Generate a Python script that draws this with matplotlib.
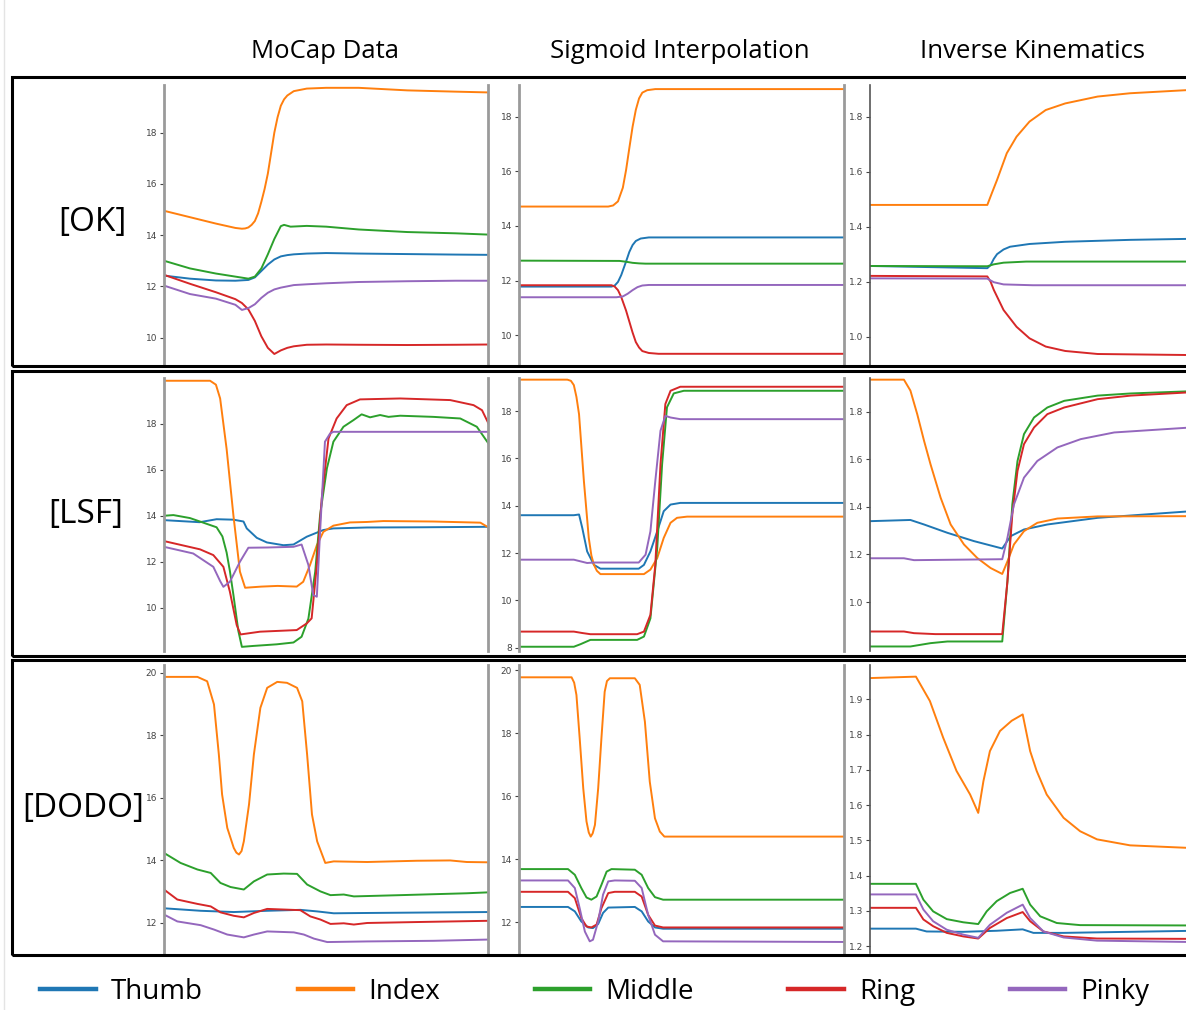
import matplotlib
matplotlib.use('Agg')
import matplotlib.pyplot as plt
from matplotlib.lines import Line2D
from matplotlib.patches import Rectangle

# finger order and colours (matplotlib default cycle)
fingers = ['Thumb', 'Index', 'Middle', 'Ring', 'Pinky']
colors = ['#1f77b4', '#ff7f0e', '#2ca02c', '#d62728', '#9467bd']

col_titles = ['MoCap Data', 'Sigmoid Interpolation', 'Inverse Kinematics']
row_labels = ['[OK]', '[LSF]', '[DODO]']

# (frame %, value) pairs
ok_mocap = {
    'Thumb': [(0, 12.42), (8, 12.3), (16, 12.23), (22, 12.22), (26, 12.25), (28, 12.35), (30, 12.6),
              (32, 12.85), (34, 13.05), (36, 13.17), (38, 13.22), (40, 13.25), (44, 13.28), (50, 13.3),
              (60, 13.28), (75, 13.26), (90, 13.24), (100, 13.23)],
    'Index': [(0, 14.95), (8, 14.7), (16, 14.45), (22, 14.28), (24, 14.25), (25, 14.26), (26, 14.3),
              (27, 14.4), (28, 14.55), (29, 14.85), (30, 15.3), (31, 15.8), (32, 16.4), (33, 17.2),
              (34, 18.0), (35, 18.6), (36, 19.05), (37, 19.3), (38, 19.45), (40, 19.62), (44, 19.72),
              (50, 19.75), (60, 19.75), (75, 19.65), (90, 19.6), (100, 19.57)],
    'Middle': [(0, 13.0), (8, 12.7), (16, 12.5), (22, 12.38), (26, 12.3), (28, 12.38), (30, 12.7),
               (32, 13.25), (34, 13.85), (36, 14.35), (37, 14.4), (39, 14.33), (44, 14.36), (50, 14.33),
               (60, 14.22), (75, 14.12), (90, 14.07), (100, 14.02)],
    'Ring': [(0, 12.45), (8, 12.1), (16, 11.77), (22, 11.5), (24, 11.35), (26, 11.1), (28, 10.65),
             (30, 10.05), (32, 9.6), (34, 9.36), (36, 9.5), (38, 9.6), (40, 9.66), (44, 9.72), (50, 9.73),
             (60, 9.72), (75, 9.71), (90, 9.72), (100, 9.73)],
    'Pinky': [(0, 12.03), (8, 11.7), (16, 11.52), (22, 11.28), (24, 11.08), (26, 11.15), (28, 11.3),
              (30, 11.55), (32, 11.75), (34, 11.88), (36, 11.95), (38, 12.0), (40, 12.05), (44, 12.08),
              (50, 12.12), (60, 12.17), (75, 12.2), (90, 12.22), (100, 12.22)],
}

ok_sigmoid = {
    'Thumb': [(0, 11.78), (28.5, 11.78), (29.5, 11.82), (30.5, 11.95), (31.5, 12.2), (33, 12.7),
              (34, 13.05), (35, 13.3), (36, 13.45), (37.5, 13.54), (40, 13.58), (100, 13.58)],
    'Index': [(0, 14.71), (27.5, 14.71), (29, 14.75), (30.5, 14.9), (32, 15.4), (33, 16.05), (34, 16.85),
              (35, 17.63), (36, 18.25), (37, 18.67), (38, 18.88), (39.5, 18.97), (42, 19.01), (100, 19.01)],
    'Middle': [(0, 12.73), (31, 12.72), (33, 12.69), (35, 12.65), (37, 12.63), (39, 12.62), (100, 12.62)],
    'Ring': [(0, 11.83), (28.5, 11.83), (29.5, 11.78), (30.5, 11.65), (31.5, 11.4), (33, 10.9), (34, 10.5),
             (35, 10.1), (36, 9.75), (37, 9.55), (38, 9.42), (40, 9.35), (43, 9.32), (100, 9.32)],
    'Pinky': [(0, 11.39), (30, 11.39), (32, 11.42), (33.5, 11.52), (35, 11.65), (36.5, 11.76), (38, 11.82),
              (40, 11.84), (100, 11.84)],
}

ok_ik = {
    'Thumb': [(0, 1.257), (36, 1.249), (37, 1.26), (38, 1.283), (39, 1.3), (41, 1.317), (43, 1.327),
              (49, 1.337), (60, 1.345), (80, 1.352), (100, 1.356)],
    'Index': [(0, 1.479), (36, 1.479), (37.5, 1.525), (39, 1.57), (42, 1.667), (45, 1.727), (49, 1.782),
              (54, 1.824), (60, 1.848), (70, 1.873), (80, 1.885), (100, 1.898)],
    'Middle': [(0, 1.257), (36, 1.256), (38, 1.263), (41, 1.269), (48, 1.273), (100, 1.273)],
    'Ring': [(0, 1.221), (36, 1.219), (37, 1.2), (38, 1.17), (41, 1.097), (45, 1.036), (49, 0.994),
             (54, 0.964), (60, 0.948), (70, 0.937), (100, 0.933)],
    'Pinky': [(0, 1.212), (36, 1.211), (38, 1.198), (41, 1.19), (50, 1.187), (100, 1.187)],
}

lsf_mocap = {
    'Thumb': [(0, 13.81), (11, 13.72), (16.2, 13.85), (21.4, 13.83), (24.5, 13.75), (25.5, 13.45),
              (28.6, 13.04), (31.7, 12.84), (36.8, 12.72), (39.9, 12.75), (44, 13.09), (49.1, 13.38),
              (52.2, 13.45), (62.5, 13.49), (80, 13.5), (100, 13.52)],
    'Index': [(0, 19.87), (14.2, 19.87), (16, 19.7), (17.3, 19.1), (19.3, 16.9), (21.4, 14.0), (23.4, 11.57),
              (25, 10.87), (30, 10.92), (35, 10.95), (40.9, 10.92), (42.9, 11.13), (45, 11.86),
              (47.1, 12.72), (49.1, 13.3), (52.2, 13.57), (57.3, 13.71), (62.5, 13.73), (67.6, 13.77),
              (83, 13.75), (97.5, 13.7), (100, 13.49)],
    'Middle': [(0, 14.0), (2.9, 14.03), (8, 13.9), (16.2, 13.5), (18, 13.1), (19.3, 12.4), (20.3, 11.6),
               (21.4, 10.55), (22.9, 9.0), (24, 8.3), (27.5, 8.34), (34.7, 8.41), (39.9, 8.49),
               (42.4, 8.74), (44.5, 9.53), (46.6, 11.57), (48.1, 14.03), (50.2, 16.06), (52.2, 17.22),
               (55.3, 17.87), (58.4, 18.16), (60.9, 18.41), (63.5, 18.28), (66.6, 18.38), (69.2, 18.3),
               (72.8, 18.35), (83, 18.3), (91.3, 18.23), (96.4, 17.87), (100, 17.14)],
    'Ring': [(0, 12.9), (11.1, 12.54), (15.2, 12.29), (18.3, 11.78), (20.3, 10.7), (22.4, 9.25),
             (23.6, 8.84), (29.6, 8.96), (40.9, 9.03), (44, 9.32), (45.5, 9.54), (47.1, 11.86),
             (48.6, 14.75), (50.7, 17.36), (53.2, 18.23), (56.3, 18.81), (60.4, 19.06), (72.8, 19.1),
             (88.2, 19.03), (95.4, 18.81), (98, 18.59), (100, 18.01)],
    'Pinky': [(0, 12.65), (9.0, 12.36), (15.2, 11.78), (17.3, 11.16), (18.3, 10.91), (20.3, 11.13),
              (23.4, 12.0), (26, 12.61), (31.7, 12.62), (39.9, 12.65), (42.4, 12.75), (44.5, 11.86),
              (46, 10.55), (47.1, 10.48), (48.1, 13.3), (49.6, 17.22), (51.2, 17.58), (52.2, 17.65),
              (100, 17.65)],
}

lsf_sigmoid = {
    'Thumb': [(0, 13.6), (16.9, 13.6), (18.5, 13.63), (19.5, 13.06), (21, 12.07), (23.1, 11.5),
              (25.1, 11.34), (36.9, 11.34), (38.5, 11.5), (40.5, 12.07), (42.6, 12.92), (44.6, 13.77),
              (46.7, 14.05), (49.7, 14.12), (100, 14.12)],
    'Index': [(0, 19.33), (14.9, 19.33), (16, 19.28), (16.9, 19.1), (17.7, 18.6), (18.5, 17.87), (20, 15.04),
              (21.5, 12.64), (22.3, 11.9), (23.1, 11.5), (24, 11.25), (25.1, 11.11), (38.5, 11.11),
              (40.5, 11.3), (42.6, 11.79), (44.6, 12.64), (46.7, 13.28), (48.7, 13.49), (51.8, 13.54),
              (100, 13.54)],
    'Middle': [(0, 8.04), (16.9, 8.04), (19, 8.15), (22, 8.33), (36.4, 8.33), (38.5, 8.47), (40.5, 9.24),
               (42.6, 12.21), (44.1, 15.75), (45.6, 18.16), (47.7, 18.75), (50.8, 18.86), (100, 18.86)],
    'Ring': [(0, 8.68), (16.9, 8.68), (19.5, 8.62), (22, 8.57), (36.4, 8.57), (38.5, 8.68), (40.5, 9.39),
             (42, 11.5), (43.6, 15.75), (45.1, 18.3), (46.7, 18.86), (49.7, 19.03), (100, 19.03)],
    'Pinky': [(0, 11.72), (16.9, 11.72), (21, 11.58), (23.1, 11.6), (36.9, 11.6), (39, 11.93),
              (40.5, 12.92), (42, 15.04), (43.6, 17.17), (45.1, 17.8), (46.7, 17.73), (49.7, 17.66),
              (100, 17.66)],
}

lsf_ik = {
    'Thumb': [(0, 1.34), (12.3, 1.345), (16.5, 1.326), (23.7, 1.291), (31.9, 1.256), (40.6, 1.225),
              (43.2, 1.277), (47.3, 1.305), (54.5, 1.326), (70, 1.354), (100, 1.383)],
    'Index': [(0, 1.935), (10.3, 1.935), (12.3, 1.889), (14.4, 1.79), (16.5, 1.678), (18.5, 1.579),
              (21.6, 1.439), (24.7, 1.326), (28.8, 1.242), (32.9, 1.185), (37, 1.143), (40.6, 1.118),
              (42.2, 1.171), (44.2, 1.242), (47.3, 1.298), (51.4, 1.333), (57.6, 1.351), (70, 1.36),
              (100, 1.361)],
    'Middle': [(0, 0.813), (12.3, 0.813), (18.5, 0.827), (23.7, 0.834), (40.6, 0.834), (42.2, 1.087),
               (43.7, 1.41), (45.3, 1.593), (47.3, 1.706), (50.4, 1.776), (54.5, 1.818), (59.7, 1.846),
               (70, 1.868), (80.2, 1.877), (100, 1.887)],
    'Ring': [(0, 0.876), (10.3, 0.876), (13.4, 0.869), (20, 0.865), (40.6, 0.865), (42.2, 1.087),
             (43.7, 1.368), (45.3, 1.551), (47.3, 1.664), (50.4, 1.734), (54.5, 1.79), (59.7, 1.818),
             (70, 1.853), (80.2, 1.868), (100, 1.883)],
    'Pinky': [(0, 1.184), (10.3, 1.184), (13.4, 1.176), (40.6, 1.18), (42.2, 1.27), (44.2, 1.41),
              (47.3, 1.523), (51.4, 1.593), (57.6, 1.65), (64.8, 1.685), (75.1, 1.713), (100, 1.735)],
}

dodo_mocap = {
    'Thumb': [(0, 12.47), (11.3, 12.39), (21.5, 12.35), (31.8, 12.39), (42, 12.42), (47.2, 12.37),
              (52.3, 12.31), (62.6, 12.32), (100, 12.35)],
    'Index': [(0, 19.87), (10.3, 19.87), (13.3, 19.73), (15.4, 18.99), (16.9, 17.39), (17.9, 16.11),
              (19.5, 15.04), (21.5, 14.4), (22.3, 14.25), (23.1, 14.19), (23.9, 14.3), (24.6, 14.61),
              (26.2, 15.79), (27.7, 17.39), (29.7, 18.88), (31.8, 19.52), (34.9, 19.71), (37.9, 19.68),
              (41, 19.52), (42.6, 19.09), (44.1, 17.39), (45.6, 15.47), (47.2, 14.61), (49.7, 13.92),
              (52.3, 13.97), (62.6, 13.95), (77.9, 13.99), (88.2, 14.0), (93.3, 13.95), (100, 13.94)],
    'Middle': [(0, 14.24), (5.1, 13.92), (10.3, 13.71), (14.4, 13.6), (17.4, 13.28), (20.5, 13.15),
               (24.6, 13.07), (27.7, 13.33), (31.8, 13.55), (36.9, 13.58), (41, 13.57), (44.1, 13.23),
               (48.2, 13.01), (51.3, 12.89), (55.4, 12.91), (58.5, 12.85), (72.8, 12.89), (93.3, 12.95),
               (100, 12.98)],
    'Ring': [(0, 13.07), (4.1, 12.75), (10.3, 12.61), (14.4, 12.53), (17.4, 12.34), (21.5, 12.23),
             (24.6, 12.18), (27.7, 12.32), (31.8, 12.45), (36.9, 12.43), (42, 12.41), (45.1, 12.21),
             (48.2, 12.11), (51.3, 11.97), (55.4, 11.99), (58.5, 11.95), (62.6, 12.0), (77.9, 12.03),
             (100, 12.07)],
    'Pinky': [(0, 12.27), (4.1, 12.05), (11.3, 11.93), (15.4, 11.79), (19.5, 11.63), (24.6, 11.54),
              (27.7, 11.63), (31.8, 11.73), (40, 11.7), (43.1, 11.63), (46.2, 11.5), (50.3, 11.39),
              (62.6, 11.41), (83.1, 11.43), (100, 11.47)],
}

dodo_sigmoid = {
    'Thumb': [(0, 12.49), (15.1, 12.49), (17.2, 12.35), (19.2, 12.03), (21.3, 11.84), (22.8, 11.82),
              (24.4, 11.95), (25.9, 12.3), (27.5, 12.47), (35.7, 12.49), (37.8, 12.35), (39.8, 12.03),
              (41.9, 11.84), (44.4, 11.8), (100, 11.8)],
    'Index': [(0, 19.77), (16.2, 19.77), (17, 19.6), (17.7, 19.21), (18.7, 17.84), (19.8, 16.25),
              (20.8, 15.2), (21.5, 14.85), (22.1, 14.72), (22.7, 14.82), (23.4, 15.09), (24.4, 16.25),
              (25.4, 17.84), (26.4, 19.31), (27.1, 19.65), (28, 19.74), (35.7, 19.74), (37.2, 19.53),
              (38.8, 18.36), (40.3, 16.46), (41.9, 15.3), (43.4, 14.88), (44.8, 14.72), (100, 14.72)],
    'Middle': [(0, 13.69), (15.1, 13.69), (17.2, 13.51), (19.2, 13.09), (20.8, 12.79), (22.3, 12.72),
               (23.9, 12.82), (25.4, 13.19), (27, 13.61), (28.5, 13.69), (35.7, 13.67), (37.8, 13.51),
               (39.8, 13.09), (41.9, 12.8), (44.4, 12.72), (100, 12.72)],
    'Ring': [(0, 12.97), (15.1, 12.97), (17.2, 12.77), (19.2, 12.14), (20.8, 11.87), (22.3, 11.84),
             (23.9, 11.93), (25.4, 12.45), (27.5, 12.93), (29.5, 12.97), (35.7, 12.97), (37.8, 12.82),
             (39.8, 12.24), (41.9, 11.9), (44.4, 11.84), (100, 11.84)],
    'Pinky': [(0, 13.33), (15.1, 13.33), (17.2, 13.09), (18.7, 12.45), (20.3, 11.71), (21.8, 11.4),
              (22.8, 11.45), (24.4, 12.03), (25.9, 12.88), (27.5, 13.3), (29.5, 13.33), (35.7, 13.32),
              (37.8, 13.09), (39.8, 12.24), (41.9, 11.61), (44.4, 11.4), (100, 11.38)],
}

dodo_ik = {
    'Thumb': [(0, 1.25), (14, 1.25), (17.3, 1.242), (28.6, 1.241), (38.9, 1.244), (46.9, 1.248),
              (50.2, 1.238), (59.5, 1.238), (100, 1.244)],
    'Index': [(0, 1.96), (14, 1.964), (18.3, 1.895), (22.4, 1.791), (26.5, 1.697), (30.7, 1.63),
              (33.2, 1.578), (34.8, 1.668), (36.8, 1.753), (39.9, 1.81), (43.5, 1.839), (46.9, 1.857),
              (49.2, 1.753), (51.2, 1.697), (54.3, 1.63), (59.5, 1.564), (64.6, 1.526), (69.8, 1.503),
              (80, 1.486), (100, 1.478)],
    'Middle': [(0, 1.377), (14, 1.377), (16.3, 1.332), (19.3, 1.299), (23.5, 1.277), (28.6, 1.268),
               (33.2, 1.263), (35.8, 1.299), (38.9, 1.328), (43, 1.351), (46.9, 1.363), (49.2, 1.318),
               (52.3, 1.285), (57.4, 1.266), (64.6, 1.26), (100, 1.259)],
    'Ring': [(0, 1.309), (14, 1.309), (16.3, 1.276), (19.3, 1.257), (23.5, 1.238), (28.6, 1.228),
             (33.2, 1.222), (36.8, 1.252), (42, 1.28), (46.9, 1.297), (49.2, 1.271), (53.3, 1.242),
             (59.5, 1.228), (69.8, 1.222), (100, 1.221)],
    'Pinky': [(0, 1.347), (14, 1.347), (16.3, 1.304), (19.3, 1.271), (23.5, 1.247), (28.6, 1.233),
              (33.2, 1.224), (36.8, 1.261), (42, 1.295), (46.9, 1.318), (49.2, 1.28), (53.3, 1.242),
              (59.5, 1.225), (69.8, 1.216), (100, 1.212)],
}

panels = [[ok_mocap, ok_sigmoid, ok_ik],
          [lsf_mocap, lsf_sigmoid, lsf_ik],
          [dodo_mocap, dodo_sigmoid, dodo_ik]]

yticks = [[[10, 12, 14, 16, 18], [10, 12, 14, 16, 18], [1.0, 1.2, 1.4, 1.6, 1.8]],
          [[10, 12, 14, 16, 18], [8, 10, 12, 14, 16, 18], [1.0, 1.2, 1.4, 1.6, 1.8]],
          [[12, 14, 16, 18, 20], [12, 14, 16, 18, 20], [1.2, 1.3, 1.4, 1.5, 1.6, 1.7, 1.8, 1.9]]]

ylims = [[(8.93, 19.86), (8.91, 19.16), (0.897, 1.915)],
         [(8.12, 19.99), (7.86, 19.4), (0.794, 1.942)],
         [(11.04, 20.25), (11.03, 20.16), (1.181, 1.997)]]

W, H = 1186, 1010
fig = plt.figure(figsize=(W / 100, H / 100), dpi=100)

ui_font = ['Open Sans', 'DejaVu Sans']

# pixel layout: axes columns and rows, outer row boxes
col_left = [164, 519, 870.5]
col_width = 324.5
row_top = [85, 378, 665]
row_bottom = [365, 651, 953]
box_top = [77, 371, 660]
box_bottom = [366, 656, 955]

for r in range(3):
    fig.add_artist(Rectangle((12 / W, 1 - box_bottom[r] / H), 1.2, (box_bottom[r] - box_top[r]) / H,
                             transform=fig.transFigure, fill=False, ec='black', lw=2.2))
    for c in range(3):
        ax = fig.add_axes([col_left[c] / W, 1 - row_bottom[r] / H,
                           col_width / W, (row_bottom[r] - row_top[r]) / H])
        for name, col in zip(fingers, colors):
            pts = panels[r][c][name]
            ax.plot([p[0] for p in pts], [p[1] for p in pts], color=col, lw=1.4)
        ax.set_xlim(0, 100)
        ax.set_ylim(*ylims[r][c])
        ax.set_yticks(yticks[r][c])
        ax.set_xticks([])
        ax.spines['top'].set_visible(False)
        ax.spines['bottom'].set_visible(False)
        if c == 2:
            ax.spines['left'].set_color('#555555')
            ax.spines['left'].set_linewidth(1.2)
        else:
            ax.spines['left'].set_color('#9a9a9a')
            ax.spines['left'].set_linewidth(2)
        ax.spines['right'].set_color('#9a9a9a')
        ax.spines['right'].set_linewidth(2)
        ax.tick_params(axis='y', labelsize=6.5, colors='#444444', length=3, width=0.8, pad=2)
        ax.patch.set_alpha(0)

title_x = [325, 680, 1033]
for x, t in zip(title_x, col_titles):
    fig.text(x / W, 1 - 52 / H, t, ha='center', va='center', fontsize=18.5, family=ui_font)

label_pos = [(92, 222), (86, 515), (83, 808)]
for (x, y), t in zip(label_pos, row_labels):
    fig.text(x / W, 1 - y / H, t, ha='center', va='center', fontsize=24, family=ui_font)

# faint page edge on the left
fig.add_artist(Line2D([4 / W, 4 / W], [0, 1], transform=fig.transFigure, color='#e4e4e4', lw=1))

handles = [Line2D([], [], color=col, lw=3.2) for col in colors]
fig.legend(handles, fingers, loc='center', bbox_to_anchor=(595 / W, 1 - 992 / H), ncol=5,
           frameon=False, prop={'family': ui_font, 'size': 20}, handlelength=2.0,
           handletextpad=0.55, columnspacing=3.4)

fig.savefig('out.png', dpi=100)
